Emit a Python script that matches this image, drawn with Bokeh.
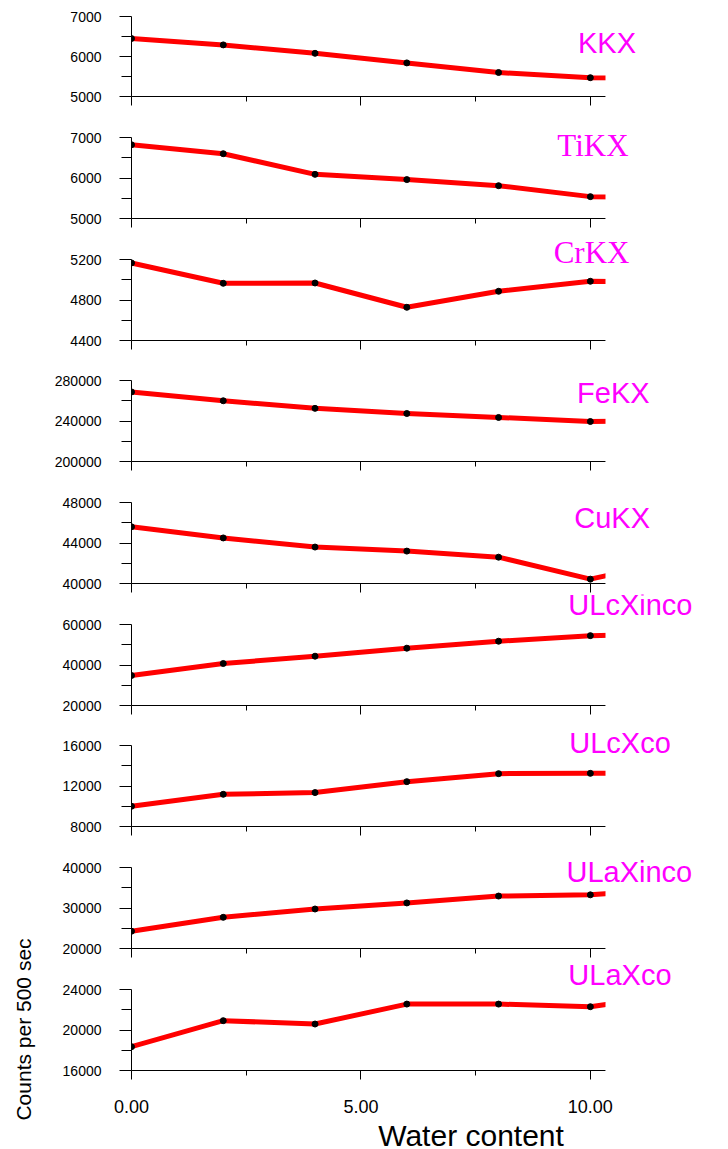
import math
from bokeh.plotting import figure
from bokeh.layouts import column, row
from bokeh.models import Range1d, FixedTicker, PrintfTickFormatter, Label, BoxAnnotation
from bokeh.embed import file_html
from bokeh.resources import INLINE

# Water content of the samples (last point lies just beyond the drawn range)
water = [0, 2, 4, 6, 8, 10, 12]

# Counts per 500 sec for each line / region
kkx = [6450, 6290, 6080, 5840, 5600, 5470, 5460]
tikx = [6820, 6600, 6090, 5960, 5810, 5540, 5520]
crkx = [5166, 4965, 4968, 4728, 4886, 4985, 4975]
fekx = [268700, 260000, 252500, 247400, 243500, 239500, 240500]
cukx = [45600, 44500, 43600, 43200, 42600, 40430, 42400]
ulcxinco = [34800, 40740, 44350, 48300, 51750, 54500, 55500]
ulcxco = [10000, 11180, 11350, 12430, 13220, 13250, 13250]
ulaxinco = [24270, 27700, 29750, 31250, 32950, 33250, 34800]
ulaxco = [18350, 20920, 20590, 22560, 22560, 22300, 23600]

names = ["KKX", "TiKX", "CrKX", "FeKX", "CuKX", "ULcXinco", "ULcXco", "ULaXinco", "ULaXco"]
series = [kkx, tikx, crkx, fekx, cukx, ulcxinco, ulcxco, ulaxinco, ulaxco]

# y-axis ranges: (bottom, top); a minor tick sits halfway between labelled ticks
y_ranges = [(5000, 7000), (5000, 7000), (4400, 5200), (200000, 280000), (40000, 48000),
            (20000, 60000), (8000, 16000), (20000, 40000), (16000, 24000)]

x_ticks = [0, 5, 10]
x_minor = [2.5, 7.5]
x_tick_labels = {0: "0.00", 5: "5.00", 10: "10.00"}

# name placement in each panel: x in data units, height in pixels above the panel's x axis
label_at = [(9.73, 54), (9.28, 73), (9.20, 88), (9.71, 69), (9.65, 66),
            (9.52, 101), (9.54, 84), (9.48, 77), (9.52, 96)]
serif_label = [False, True, True, False, False, False, False, False, False]

SANS = "Liberation Sans"
SERIF = "Liberation Serif"
MAGENTA = "#FF00FF"

# vertical layout of each panel canvas: (head room above the axis box, axis box height, border below)
layout_rows = [(16, 80, 11), (30, 81, 11), (30, 81, 10), (30, 81, 11), (30, 81, 11),
               (30, 81, 10), (30, 81, 11), (30, 81, 11), (30, 81, 50)]

LEFT_W = 40          # strip holding the shared y title
AXIS_LEFT = 131      # x position of every y axis
AXIS_W = 474         # drawn length of the x axis
FRAME_W = 728 - AXIS_LEFT   # plotting area runs to the right edge so the names fit
X_END = 10.33
X_FAR = X_END * FRAME_W / AXIS_W
TOTAL_H = 1149
FOOT_H = 29          # strip under the panels with the x title


def style_ticks(ax, major_out, minor_out):
    ax.axis_line_color = "black"
    ax.major_tick_line_color = "black"
    ax.minor_tick_line_color = "black"
    ax.major_tick_out = major_out
    ax.major_tick_in = 0
    ax.minor_tick_out = minor_out
    ax.minor_tick_in = 0


panels = []
n = len(names)
for i in range(n):
    lo, hi = y_ranges[i]
    head, band, bottom = layout_rows[i]
    last = i == n - 1
    per_px = (hi - lo) / band
    y_top = hi + head * per_px
    p = figure(frame_width=FRAME_W, frame_height=head + band,
               x_range=Range1d(0, X_FAR), y_range=Range1d(lo, y_top),
               min_border_left=AXIS_LEFT - LEFT_W, min_border_right=0,
               min_border_top=0, min_border_bottom=bottom,
               toolbar_location=None, output_backend="svg",
               background_fill_color="white", border_fill_color="white")
    p.outline_line_color = None
    p.xgrid.visible = False
    p.ygrid.visible = False

    step = (hi - lo) / 2
    yax = p.yaxis[0]
    yax.bounds = (lo, hi)
    yax.ticker = FixedTicker(ticks=[lo, lo + step, hi], minor_ticks=[lo + step / 2, lo + 1.5 * step])
    yax.formatter = PrintfTickFormatter(format="%d")
    style_ticks(yax, 12, 10)
    yax.major_label_standoff = 18
    yax.major_label_text_font = SANS
    yax.major_label_text_font_size = "14px"
    yax.major_label_text_color = "black"

    xax = p.xaxis[0]
    xax.bounds = (0, X_END)
    xax.ticker = FixedTicker(ticks=x_ticks, minor_ticks=x_minor)
    style_ticks(xax, 9, 5)
    if last:
        xax.major_label_overrides = x_tick_labels
        xax.major_label_text_font = SANS
        xax.major_label_text_font_size = "18px"
        xax.major_label_text_color = "black"
        xax.major_label_standoff = 20
    else:
        xax.major_label_text_font_size = "1px"
        xax.major_label_text_color = None
        xax.major_label_standoff = 0

    p.line(water, series[i], line_color="#FF0000", line_width=5, line_join="round")
    p.scatter(water, series[i], size=6, fill_color="black", line_color="black")

    # blank out everything to the right of the x axis end
    p.add_layout(BoxAnnotation(left=X_END, fill_color="white", fill_alpha=1.0, line_color=None))

    lx, lpx = label_at[i]
    p.add_layout(Label(x=lx, y=lo + lpx * per_px, text=names[i], text_color=MAGENTA,
                       text_font=SERIF if serif_label[i] else SANS,
                       text_font_size="31px" if serif_label[i] else "29px",
                       text_align="left", text_baseline="alphabetic"))
    panels.append(p)

# strip below the panels with the x title, sharing the panels' x scale
foot = figure(frame_width=FRAME_W, frame_height=FOOT_H,
              x_range=Range1d(0, X_FAR), y_range=Range1d(0, FOOT_H),
              min_border_left=AXIS_LEFT - LEFT_W, min_border_right=0,
              min_border_top=0, min_border_bottom=0,
              x_axis_location=None, y_axis_location=None,
              toolbar_location=None, output_backend="svg",
              background_fill_color="white", border_fill_color="white")
foot.outline_line_color = None
foot.xgrid.visible = False
foot.ygrid.visible = False
foot.add_layout(Label(x=7.40, y=14, text="Water content", text_color="black",
                      text_font=SANS, text_font_size="30px",
                      text_align="center", text_baseline="alphabetic"))

# narrow strip on the left carrying the shared y title
side = figure(width=LEFT_W, height=TOTAL_H, x_range=Range1d(0, LEFT_W), y_range=Range1d(0, TOTAL_H),
              x_axis_location=None, y_axis_location=None, min_border=0,
              toolbar_location=None, output_backend="svg",
              background_fill_color="white", border_fill_color="white")
side.outline_line_color = None
side.xgrid.visible = False
side.ygrid.visible = False
side.add_layout(Label(x=23, y=120, text="Counts per 500 sec", angle=math.pi / 2,
                      text_align="center", text_baseline="middle", text_color="black",
                      text_font=SANS, text_font_size="21px"))

layout = row(side, column(*panels, foot, spacing=0), spacing=0)

open("out.html", "w").write(file_html(layout, INLINE))
